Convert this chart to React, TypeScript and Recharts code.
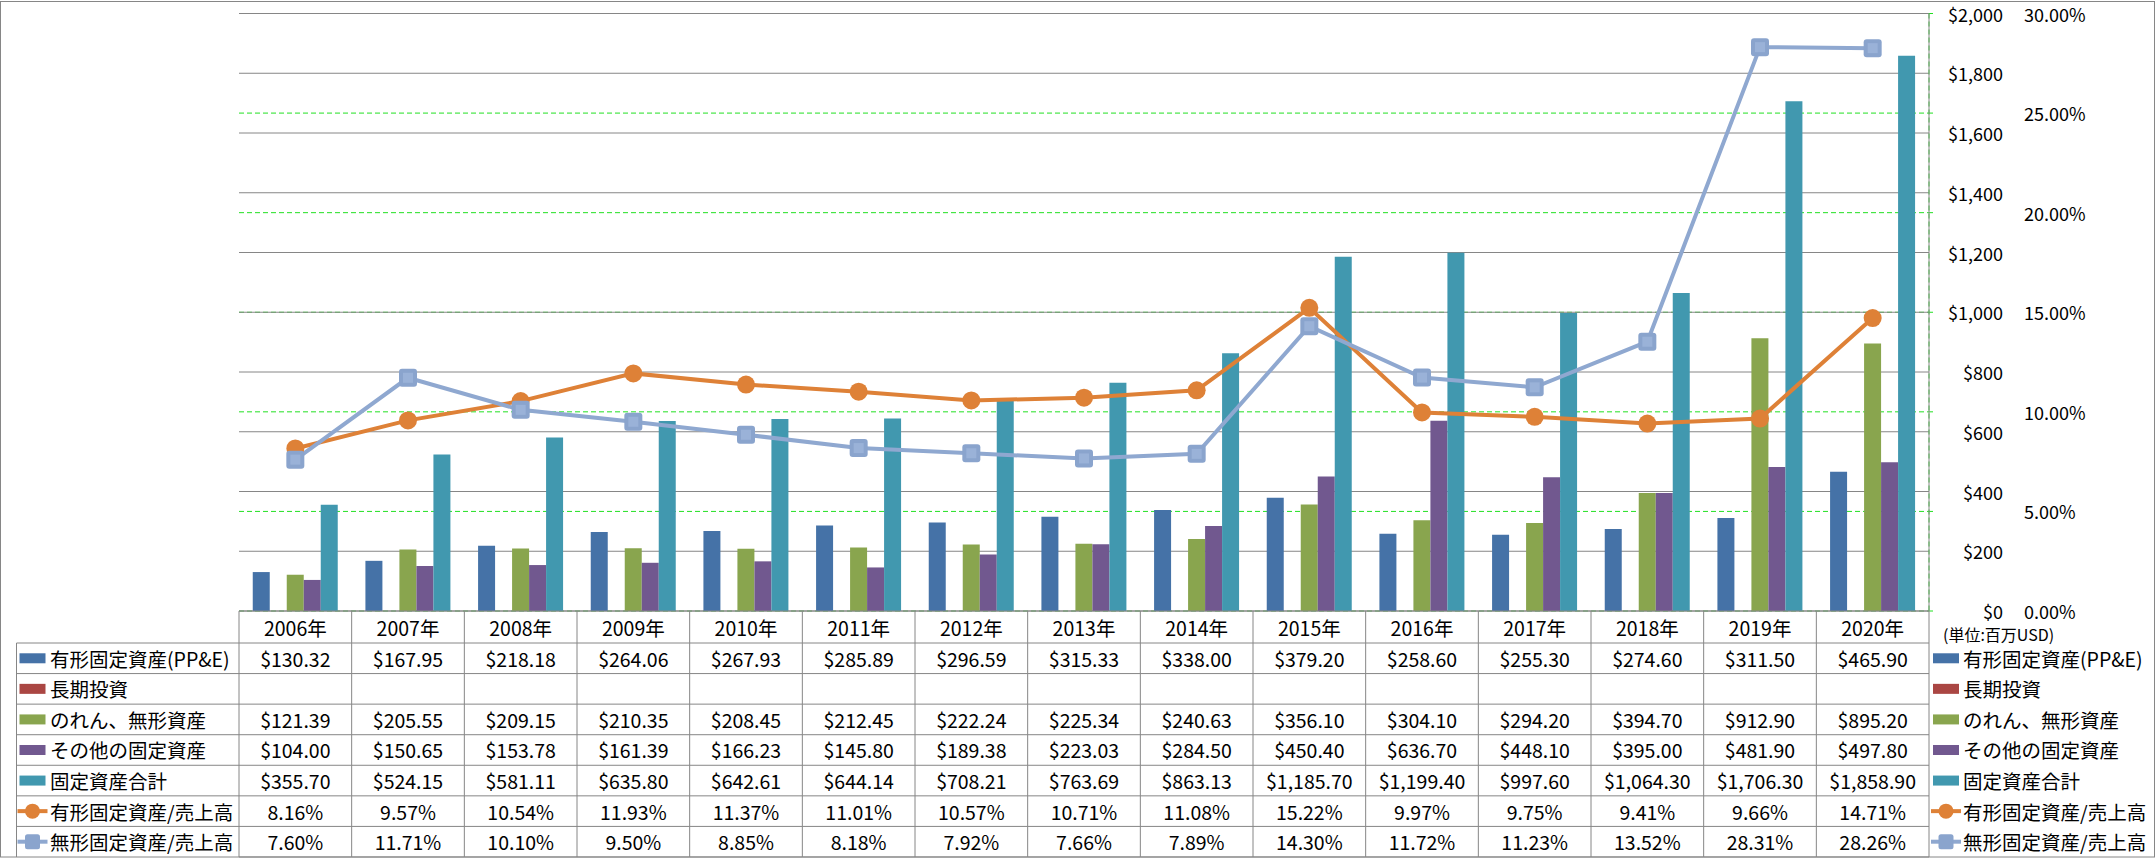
import React from "react";
import { ComposedChart, Bar, Line, XAxis, YAxis, CartesianGrid } from "recharts";

const years = ["2006年", "2007年", "2008年", "2009年", "2010年", "2011年", "2012年", "2013年", "2014年", "2015年", "2016年", "2017年", "2018年", "2019年", "2020年"];
const ppe = [130.32, 167.95, 218.18, 264.06, 267.93, 285.89, 296.59, 315.33, 338.0, 379.2, 258.6, 255.3, 274.6, 311.5, 465.9];
const longTermInv = [null, null, null, null, null, null, null, null, null, null, null, null, null, null, null];
const goodwill = [121.39, 205.55, 209.15, 210.35, 208.45, 212.45, 222.24, 225.34, 240.63, 356.1, 304.1, 294.2, 394.7, 912.9, 895.2];
const otherFixed = [104.0, 150.65, 153.78, 161.39, 166.23, 145.8, 189.38, 223.03, 284.5, 450.4, 636.7, 448.1, 395.0, 481.9, 497.8];
const totalFixed = [355.7, 524.15, 581.11, 635.8, 642.61, 644.14, 708.21, 763.69, 863.13, 1185.7, 1199.4, 997.6, 1064.3, 1706.3, 1858.9];
const tangibleRatio = [8.16, 9.57, 10.54, 11.93, 11.37, 11.01, 10.57, 10.71, 11.08, 15.22, 9.97, 9.75, 9.41, 9.66, 14.71];
const intangibleRatio = [7.6, 11.71, 10.1, 9.5, 8.85, 8.18, 7.92, 7.66, 7.89, 14.3, 11.72, 11.23, 13.52, 28.31, 28.26];
const usdTicks = [0, 200, 400, 600, 800, 1000, 1200, 1400, 1600, 1800, 2000];
const pctTicks = [0, 5, 10, 15, 20, 25, 30];

const BLUE = "#4572A7";
const RED = "#AA4643";
const GREEN = "#89A54E";
const PURPLE = "#71588F";
const TEAL = "#4198AF";
const ORANGE = "#DE8137";
const STEEL = "#8FA8D0";
const LIME = "#22E022";
const GRID = "#868686";
const FONT = "'Noto Sans CJK JP', 'Noto Sans', sans-serif";
const FS = 19.5;
const AXIS_FS = 18;

const W = 2156;
const H = 858;
const PLOT_L = 239;
const PLOT_R = 1929;
const PLOT_T = 13.5;
const PLOT_B = 611;
const COL_W = (PLOT_R - PLOT_L) / years.length;
const ROW_TOP = 643;
const ROW_H = 30.57;
const TABLE_B = ROW_TOP + ROW_H * 7;

const data = years.map((year, i) => ({
  year,
  ppe: ppe[i],
  longTermInv: longTermInv[i],
  goodwill: goodwill[i],
  otherFixed: otherFixed[i],
  totalFixed: totalFixed[i],
  tangibleRatio: tangibleRatio[i],
  intangibleRatio: intangibleRatio[i],
}));

const usd = (v: number | null) =>
  v == null ? "" : "$" + v.toLocaleString("en-US", { minimumFractionDigits: 2, maximumFractionDigits: 2 });
const pct = (v: number | null) => (v == null ? "" : v.toFixed(2) + "%");

const rows = [
  { label: "有形固定資産(PP&E)", kind: "bar", color: BLUE, values: ppe, fmt: usd },
  { label: "長期投資", kind: "bar", color: RED, values: longTermInv, fmt: usd },
  { label: "のれん、無形資産", kind: "bar", color: GREEN, values: goodwill, fmt: usd },
  { label: "その他の固定資産", kind: "bar", color: PURPLE, values: otherFixed, fmt: usd },
  { label: "固定資産合計", kind: "bar", color: TEAL, values: totalFixed, fmt: usd },
  { label: "有形固定資産/売上高", kind: "circle", color: ORANGE, values: tangibleRatio, fmt: pct },
  { label: "無形固定資産/売上高", kind: "square", color: STEEL, values: intangibleRatio, fmt: pct },
];

const rowMid = (r: number) => ROW_TOP + ROW_H * (r + 0.5);

const SquareDot = (props: any) => {
  const { cx, cy } = props;
  if (cx == null || cy == null) return null;
  return (
    <g>
      <rect x={cx - 9} y={cy - 9} width={18} height={18} rx={3} fill="#8AA4CD" />
      <rect x={cx - 5} y={cy - 5} width={10} height={10} fill="#9AB2D8" />
    </g>
  );
};

// one column of the data table under each category
const TableColumn = (props: any) => {
  const { x, index, payload } = props;
  const left = x - COL_W / 2;
  const right = x + COL_W / 2;
  const last = index === years.length - 1;
  return (
    <g fontFamily={FONT} fontSize={FS} fill="#000">
      <line x1={left} x2={left} y1={PLOT_B} y2={TABLE_B} stroke={GRID} />
      {last && <line x1={right} x2={right} y1={PLOT_T} y2={TABLE_B} stroke={GRID} />}
      <text x={x} y={(PLOT_B + ROW_TOP) / 2} textAnchor="middle" dominantBaseline="central">
        {payload.value}
      </text>
      {rows.map((row, r) => (
        <g key={r}>
          <line x1={left} x2={right} y1={ROW_TOP + ROW_H * r} y2={ROW_TOP + ROW_H * r} stroke={GRID} />
          <text x={x} y={rowMid(r)} textAnchor="middle" dominantBaseline="central">
            {row.fmt(row.values[index] as any)}
          </text>
        </g>
      ))}
      <line x1={left} x2={right} y1={TABLE_B} y2={TABLE_B} stroke={GRID} />
    </g>
  );
};

const UsdTick = (props: any) => {
  const { y, payload } = props;
  return (
    <text x={PLOT_R + 74} y={y} textAnchor="end" dominantBaseline="central" fontFamily={FONT} fontSize={AXIS_FS} fill="#000">
      {"$" + payload.value.toLocaleString("en-US")}
    </text>
  );
};

const PctTick = (props: any) => {
  const { y, payload } = props;
  return (
    <text x={PLOT_R + 95} y={y} textAnchor="start" dominantBaseline="central" fontFamily={FONT} fontSize={AXIS_FS} fill="#000">
      {payload.value.toFixed(2) + "%"}
    </text>
  );
};

const LegendKey = ({ kind, color, cx, cy }: { kind: string; color: string; cx: number; cy: number }) => {
  if (kind === "bar") return <rect x={cx - 13} y={cy - 5} width={26} height={10} fill={color} />;
  return (
    <g>
      <line x1={cx - 15} x2={cx + 15} y1={cy} y2={cy} stroke={color} strokeWidth={4} />
      {kind === "circle" ? (
        <circle cx={cx} cy={cy} r={7.5} fill={color} />
      ) : (
        <rect x={cx - 7.5} y={cy - 7.5} width={15} height={15} rx={2.5} fill="#8AA4CD" />
      )}
    </g>
  );
};

export default function App() {
  return (
    <div style={{ position: "relative", width: W, height: H, background: "#fff" }}>
      <style>{"body{margin:0}"}</style>
      <ComposedChart
        width={W}
        height={H}
        data={data}
        margin={{ top: PLOT_T, left: PLOT_L, right: 0, bottom: 0 }}
        barCategoryGap="12.2%"
        barGap={0}
      >
        <CartesianGrid yAxisId="pct" vertical={false} stroke={LIME} strokeDasharray="5 3" />
        <CartesianGrid yAxisId="usd" vertical={false} stroke={GRID} />
        <XAxis
          dataKey="year"
          height={H - PLOT_B}
          interval={0}
          tickLine={false}
          axisLine={{ stroke: GRID }}
          tick={(p: any) => <TableColumn {...p} />}
        />
        <YAxis
          yAxisId="usd"
          orientation="right"
          width={76}
          domain={[0, 2000]}
          ticks={usdTicks}
          axisLine={false}
          tickLine={false}
          tick={(p: any) => <UsdTick {...p} />}
        />
        <YAxis
          yAxisId="pct"
          orientation="right"
          width={W - PLOT_R - 76}
          domain={[0, 30]}
          ticks={pctTicks}
          axisLine={{ stroke: LIME, strokeDasharray: "5 3" }}
          tickLine={{ stroke: LIME }}
          tickSize={4}
          tick={(p: any) => <PctTick {...p} />}
        />
        <Bar yAxisId="usd" dataKey="ppe" fill={BLUE} isAnimationActive={false} />
        <Bar yAxisId="usd" dataKey="longTermInv" fill={RED} isAnimationActive={false} />
        <Bar yAxisId="usd" dataKey="goodwill" fill={GREEN} isAnimationActive={false} />
        <Bar yAxisId="usd" dataKey="otherFixed" fill={PURPLE} isAnimationActive={false} />
        <Bar yAxisId="usd" dataKey="totalFixed" fill={TEAL} isAnimationActive={false} />
        <Line
          yAxisId="pct"
          dataKey="tangibleRatio"
          stroke={ORANGE}
          strokeWidth={4}
          dot={{ r: 9, fill: ORANGE, stroke: ORANGE, strokeWidth: 0 }}
          activeDot={false}
          isAnimationActive={false}
        />
        <Line
          yAxisId="pct"
          dataKey="intangibleRatio"
          stroke={STEEL}
          strokeWidth={4}
          dot={(p: any) => <SquareDot key={p.index} {...p} />}
          activeDot={false}
          isAnimationActive={false}
        />
      </ComposedChart>

      <svg
        width={W}
        height={H}
        style={{ position: "absolute", left: 0, top: 0, pointerEvents: "none" }}
        fontFamily={FONT}
        fontSize={FS}
      >
        <rect x={0.5} y={1.5} width={W - 2} height={H - 2.5} fill="none" stroke={GRID} />
        {/* left label column of the data table */}
        <line x1={16.5} x2={16.5} y1={ROW_TOP} y2={TABLE_B} stroke={GRID} />
        {rows.map((row, r) => (
          <g key={"l" + r}>
            <line x1={16.5} x2={PLOT_L} y1={ROW_TOP + ROW_H * r} y2={ROW_TOP + ROW_H * r} stroke={GRID} />
            <LegendKey kind={row.kind} color={row.color} cx={32.5} cy={rowMid(r)} />
            <text x={50} y={rowMid(r)} dominantBaseline="central" fill="#000">
              {row.label}
            </text>
          </g>
        ))}
        {/* right legend */}
        <text x={1943} y={634} dominantBaseline="central" fontSize={16} fill="#000">
          (単位:百万USD)
        </text>
        {rows.map((row, r) => (
          <g key={"r" + r}>
            <LegendKey kind={row.kind} color={row.color} cx={1946} cy={rowMid(r)} />
            <text x={1963} y={rowMid(r)} dominantBaseline="central" fill="#000">
              {row.label}
            </text>
          </g>
        ))}
      </svg>
    </div>
  );
}
